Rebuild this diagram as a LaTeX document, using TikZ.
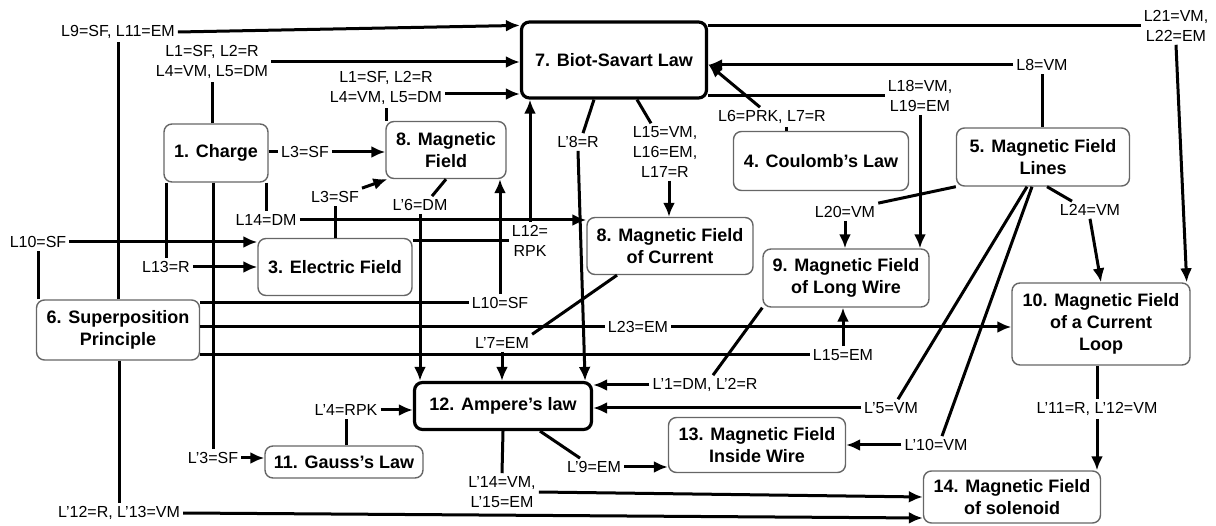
\documentclass[tikz,border=0pt]{standalone}
\usepackage{fontspec}
\setmainfont{Liberation Sans}
\usetikzlibrary{arrows.meta}

\begin{document}
\begin{tikzpicture}[x=1pt, y=-1pt, >={Latex[length=14pt,width=12pt]},
	box/.style={draw=black!60, line width=1.4pt, rounded corners=8pt, align=center, inner sep=2pt, font=\bfseries\fontsize{18}{22}\selectfont},
	keybox/.style={box, draw=black, line width=3.2pt},
	lab/.style={align=center, inner sep=3pt, font=\fontsize{16}{20}\selectfont},
	link/.style={line width=3pt}]
	\useasboundingbox (0,0) rectangle (1216,526);
	% concepts
	\node[box, minimum width=104pt, minimum height=58pt] (charge) at (216,153) {1. Charge};
	\node[box, minimum width=120pt, minimum height=57pt] (mfield) at (446,150) {8. Magnetic\\Field};
	\node[keybox, minimum width=185pt, minimum height=76pt] (biot) at (614,60) {7. Biot-Savart Law};
	\node[box, minimum width=175pt, minimum height=59pt] (coulomb) at (821,161) {4. Coulomb's Law};
	\node[box, minimum width=173pt, minimum height=58pt] (fieldlines) at (1043,157) {5. Magnetic Field\\Lines};
	\node[box, minimum width=154pt, minimum height=57pt] (efield) at (335,267) {3. Electric Field};
	\node[box, minimum width=163pt, minimum height=60pt] (superpos) at (118,330) {6. Superposition\\Principle};
	\node[box, minimum width=166pt, minimum height=57pt] (mfcurrent) at (670,246) {8. Magnetic Field\\of Current};
	\node[box, minimum width=166pt, minimum height=58pt] (longwire) at (846,278) {9. Magnetic Field\\of Long Wire};
	\node[box, minimum width=178pt, minimum height=82pt] (loop) at (1101,324) {10. Magnetic Field\\of a Current\\Loop};
	\node[keybox, minimum width=177pt, minimum height=47pt] (ampere) at (503,406) {12. Ampere's law};
	\node[box, minimum width=158pt, minimum height=32pt] (gauss) at (344,462) {11. Gauss's Law};
	\node[box, minimum width=177pt, minimum height=55pt] (inside) at (757,445) {13. Magnetic Field\\Inside Wire};
	\node[box, minimum width=177pt, minimum height=52pt] (solenoid) at (1012,497) {14. Magnetic Field\\of solenoid};
	% link labels
	\node[lab] (l9) at (118,32) {L9=SF, L11=EM};
	\node[lab] (l1a) at (212,62) {L1=SF, L2=R\\L4=VM, L5=DM};
	\node[lab] (l1b) at (386,88) {L1=SF, L2=R\\L4=VM, L5=DM};
	\node[lab] (l3a) at (305,152) {L3=SF};
	\node[lab] (l3b) at (335,197) {L3=SF};
	\node[lab] (l14) at (266,220) {L14=DM};
	\node[lab] (l13) at (166,267) {L13=R};
	\node[lab] (lp3) at (213,458) {L'3=SF};
	\node[lab] (l10a) at (38,242) {L10=SF};
	\node[lab] (l10b) at (500,303) {L10=SF};
	\node[lab] (lp6) at (420,205) {L'6=DM};
	\node[lab] (l12) at (530,241) {L12=\\RPK};
	\node[lab] (lp8) at (578,142) {L'8=R};
	\node[lab] (l15a) at (665,152) {L15=VM,\\L16=EM,\\L17=R};
	\node[lab] (l6) at (772,117) {L6=PRK, L7=R};
	\node[lab] (l18) at (920,96) {L18=VM,\\L19=EM};
	\node[lab] (l21) at (1176,26) {L21=VM,\\L22=EM};
	\node[lab] (l8) at (1042,65) {L8=VM};
	\node[lab] (l20) at (845,212) {L20=VM};
	\node[lab] (l24) at (1090,210) {L24=VM};
	\node[lab] (lp5) at (891,408) {L'5=VM};
	\node[lab] (lp10) at (936,445) {L'10=VM};
	\node[lab] (lp1) at (705,385) {L'1=DM, L'2=R};
	\node[lab] (lp7) at (502,343) {L'7=EM};
	\node[lab] (l23) at (638,327) {L23=EM};
	\node[lab] (l15b) at (843,355) {L15=EM};
	\node[lab] (lp4) at (346,410) {L'4=RPK};
	\node[lab] (lp9) at (594,467) {L'9=EM};
	\node[lab] (lp14) at (502,492) {L'14=VM,\\L'15=EM};
	\node[lab] (lp12) at (119,513) {L'12=R, L'13=VM};
	\node[lab] (lp11) at (1097,409) {L'11=R, L'12=VM};
	% links
	\draw[link] (superpos.north -| l9) -- (l9.south);
	\draw[link, ->] (l9.east) -- ([yshift=-5pt]biot.north west);
	\draw[link] (charge.north -| l1a) -- (l1a.south);
	\draw[link, ->] (l1a.east) -- (l1a.east -| biot.west);
	\draw[link] (mfield.north -| l1b) -- (l1b.south);
	\draw[link, ->] ([yshift=-6pt]l1b.east) -- ([yshift=-6pt]l1b.east -| biot.west);
	\draw[link] (charge.east |- l3a) -- (l3a.west);
	\draw[link, ->] (l3a.east) -- (l3a.east -| mfield.west);
	\draw[link] (efield.north -| l3b) -- (l3b.south);
	\draw[link, ->] (l3b.north east) -- ([xshift=2pt]mfield.south west);
	\draw[link] (charge.south -| l14) -- (l14.north);
	\draw[link, ->] (l14.east) -- (l14.east -| mfcurrent.west);
	\draw[link] (charge.south -| l13) -- (l13.north);
	\draw[link, ->] (l13.east) -- (l13.east -| efield.west);
	\draw[link] (charge.south -| lp3) -- (lp3.north);
	\draw[link, ->] (lp3.east) -- (lp3.east -| gauss.west);
	\draw[link] (superpos.north -| l10a) -- (l10a.south);
	\draw[link, ->] (l10a.east) -- (l10a.east -| efield.west);
	\draw[link] (superpos.east |- l10b) -- (l10b.west);
	\draw[link, ->] (l10b.north) -- (l10b.north |- mfield.south);
	\draw[link] (mfield.south) -- ([xshift=12pt]lp6.north);
	\draw[link, ->] (lp6.south) -- (lp6.south |- ampere.north);
	\draw[link] (efield.east |- l12) -- (l12.west);
	\draw[link, ->] (l12.north) -- (l12.north |- biot.south);
	\draw[link] ([xshift=-20pt]biot.south) -- ([xshift=5pt]lp8.north);
	\draw[link, ->] (lp8.south) -- ([xshift=-8pt]ampere.north east);
	\draw[link] ([xshift=23pt]biot.south) -- ([xshift=-14pt]l15a.north);
	\draw[link, ->] ([xshift=4pt]l15a.south) -- ([xshift=4pt]l15a.south |- mfcurrent.north);
	\draw[link] ([xshift=14pt]l6.south) -- ([xshift=14pt]l6.south |- coulomb.north);
	\draw[link, ->] ([xshift=-12pt]l6.north) -- ([yshift=-4pt]biot.east);
	\draw[link] (biot.east |- l18.west) -- (l18.west);
	\draw[link, ->] (l18.south) -- (l18.south |- longwire.north);
	\draw[link] (biot.east |- l21.west) -- (l21.west);
	\draw[link, ->] (l21.south) -- ([xshift=-4pt]loop.north east);
	\draw[link] (fieldlines.north -| l8) -- (l8.south);
	\draw[link, ->] (l8.west) -- (l8.west -| biot.east);
	\draw[link] (fieldlines.south west) -- (l20.north east);
	\draw[link, ->] (l20.south) -- (l20.south |- longwire.north);
	\draw[link] ([xshift=4pt]fieldlines.south) -- ([xshift=-18pt]l24.north);
	\draw[link, ->] (l24.south) -- (loop.north);
	\draw[link] ([xshift=-16pt]fieldlines.south) -- ([xshift=7pt]lp5.north);
	\draw[link, ->] (lp5.west) -- (lp5.west -| ampere.east);
	\draw[link] ([xshift=-11pt]fieldlines.south) -- ([xshift=6pt]lp10.north);
	\draw[link, ->] (lp10.west) -- (lp10.west -| inside.east);
	\draw[link] (longwire.south west) -- ([xshift=8pt]lp1.north);
	\draw[link, ->] (lp1.west) -- (lp1.west -| ampere.east);
	\draw[link] ([xshift=-53pt]mfcurrent.south) -- (lp7.north east);
	\draw[link, ->] (lp7.south) -- (lp7.south |- ampere.north);
	\draw[link] (superpos.east |- l23) -- (l23.west);
	\draw[link, ->] (l23.east) -- (l23.east -| loop.west);
	\draw[link] (superpos.east |- l15b) -- (l15b.west);
	\draw[link, ->] (l15b.north) -- (l15b.north |- longwire.south);
	\draw[link] (gauss.north -| lp4) -- (lp4.south);
	\draw[link, ->] (lp4.east) -- (lp4.east -| ampere.west);
	\draw[link] ([xshift=37pt]ampere.south) -- ([xshift=-14pt]lp9.north);
	\draw[link, ->] (lp9.east) -- (lp9.east -| inside.west);
	\draw[link] (ampere.south) -- (lp14.north);
	\draw[link, ->] (lp14.east) -- (solenoid.west);
	\draw[link] (superpos.south -| lp12) -- (lp12.north);
	\draw[link, ->] (lp12.east) -- ([yshift=-21pt]solenoid.west);
	\draw[link] (loop.south -| lp11) -- (lp11.north);
	\draw[link, ->] (lp11.south) -- (lp11.south |- solenoid.north);
\end{tikzpicture}
\end{document}
